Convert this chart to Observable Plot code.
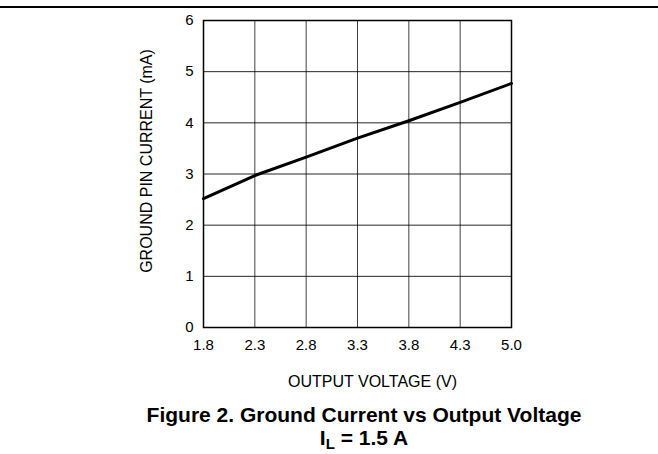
<!DOCTYPE html>
<html>
<head>
<meta charset="utf-8">
<script src="https://cdn.jsdelivr.net/npm/d3@7"></script>
<script src="https://cdn.jsdelivr.net/npm/@observablehq/plot@0.6"></script>
<style>
  html, body { margin: 0; padding: 0; background: #fff; }
  body { width: 658px; height: 454px; position: relative; overflow: hidden;
         font-family: "Liberation Sans", Arial, sans-serif; }
  #topline { position: absolute; left: 0; top: 6px; width: 658px; height: 2px; background: #000; }
  #chart svg { display: block; }
  .title { width: 658px; box-sizing: border-box; padding-left: 70px; text-align: center;
           font-weight: bold; font-size: 21px; color: #000; white-space: nowrap; }
  #t1 { margin-top: 8px; line-height: 23px; }
  #t2 { line-height: 23px; margin-top: 0px; }
  #t2 sub { font-size: 15px; vertical-align: -4px; line-height: 0; }
</style>
</head>
<body>
<div id="topline"></div>
<div id="chart"></div>
<div class="title" id="t1">Figure 2. Ground Current vs Output Voltage</div>
<div class="title" id="t2">I<sub>L</sub> = 1.5 A</div>
<script>
const voltage = [1.8, 2.3, 2.8, 3.3, 3.8, 4.3, 4.8];
const current = [2.52, 2.97, 3.33, 3.70, 4.04, 4.40, 4.77];
const xTicks = [1.8, 2.3, 2.8, 3.3, 3.8, 4.3, 4.8];
const xTickLabels = ["1.8", "2.3", "2.8", "3.3", "3.8", "4.3", "5.0"];
const yTicks = [0, 1, 2, 3, 4, 5, 6];
const xTitle = "OUTPUT VOLTAGE (V)";
const yTitle = "GROUND PIN CURRENT (mA)";

const data = voltage.map((v, i) => ({v, c: current[i]}));
const labelMap = new Map(xTicks.map((t, i) => [t, xTickLabels[i]]));

const chart = Plot.plot({
  width: 658,
  height: 395,
  marginLeft: 203,
  marginRight: 147,
  marginTop: 20,
  marginBottom: 68,
  style: {fontFamily: '"Liberation Sans", Arial, sans-serif', fontSize: "15px", color: "#000", background: "#fff"},
  x: {domain: [1.8, 4.8]},
  y: {domain: [0, 6]},
  marks: [
    Plot.gridX(xTicks, {stroke: "#000", strokeOpacity: 0.75, strokeWidth: 1}),
    Plot.gridY(yTicks, {stroke: "#000", strokeOpacity: 0.85, strokeWidth: 1}),
    Plot.frame({stroke: "#000", strokeWidth: 1.5}),
    Plot.axisX(xTicks, {tickSize: 0, tickPadding: 12, tickFormat: d => labelMap.get(d), label: null, fontSize: 15}),
    Plot.axisY(yTicks, {tickSize: 0, tickPadding: 10, tickFormat: d => String(d), label: null, fontSize: 15}),
    Plot.line(data, {x: "v", y: "c", stroke: "#000", strokeWidth: 3}),
    Plot.text([xTitle], {text: d => d, frameAnchor: "bottom", dy: 59, dx: 15, fontSize: 16}),
    Plot.text([yTitle], {text: d => d, frameAnchor: "left", textAnchor: "middle", dx: -57, dy: -13, rotate: -90, fontSize: 16})
  ]
});
document.getElementById("chart").appendChild(chart);
</script>
</body>
</html>
